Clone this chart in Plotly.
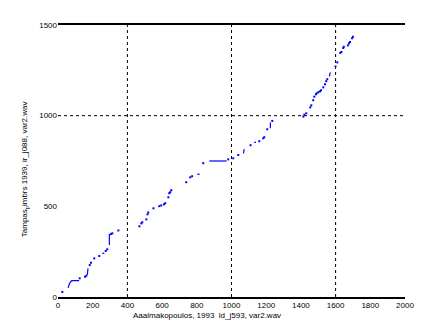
import plotly.graph_objects as go

# Isolated quantile points (x: Aaalmakopoulos, y: Tampas)
dots_x = [25, 125, 156, 163, 183, 190, 209, 238, 275, 284, 305, 313, 348,
          469, 480, 486, 509, 516, 520, 550, 584, 595, 611, 618, 636, 641, 647, 653,
          739, 762, 773, 837, 981, 1010, 1039, 1110, 1160, 1183, 1189, 1206, 1235,
          1414, 1420, 1431, 1454, 1460, 1471, 1477, 1487, 1491, 1500, 1510, 1516,
          1529, 1539, 1546, 1552, 1610, 1627, 1633, 1644, 1647, 1671, 1677, 1683,
          1695, 1700]
dots_y = [28, 103, 112, 117, 176, 189, 213, 226, 254, 263, 347, 351, 367,
          390, 406, 412, 428, 456, 466, 489, 501, 505, 511, 517, 550, 572, 578, 589,
          633, 660, 666, 738, 759, 765, 783, 837, 859, 875, 881, 925, 971,
          995, 1006, 1013, 1046, 1057, 1085, 1105, 1118, 1123, 1129, 1134, 1140,
          1156, 1173, 1190, 1201, 1294, 1346, 1351, 1373, 1380, 1388, 1399, 1406,
          1427, 1435]

# Dense runs of points (drawn as continuous strokes)
runs_x = [[58, 67, 79, 122], [169, 173], [255, 267], [296, 296], [803, 817],
          [872, 972], [1069, 1073], [1131, 1141], [1224, 1224], [1564, 1569],
          [1593, 1606]]
runs_y = [[50, 76, 90, 90], [121, 158], [241, 241], [287, 347], [677, 677],
          [750, 750], [792, 815], [853, 853], [930, 963], [1217, 1239],
          [1273, 1273]]

x_ticks = [0, 200, 400, 600, 800, 1000, 1200, 1400, 1600, 1800, 2000]
y_ticks = [0, 500, 1000, 1500]
x_grid = [400, 1000, 1600]
y_grid = [1000]

x_title = "Aaalmakopoulos, 1993  ld_j593, var2.wav"
y_title = "Tampas<sub>p</sub>imbrs 1939, ir_j088, var2.wav"

blue = "rgb(0,0,255)"
fig = go.Figure()

lx, ly = [], []
for rx, ry in zip(runs_x, runs_y):
    lx += rx + [None]
    ly += ry + [None]
fig.add_trace(go.Scatter(x=lx, y=ly, mode="lines",
                         line=dict(color=blue, width=1.2), hoverinfo="skip"))
fig.add_trace(go.Scatter(x=dots_x, y=dots_y, mode="markers",
                         marker=dict(color=blue, size=2, symbol="square",
                                     line=dict(width=0))))

for gx in x_grid:
    fig.add_shape(type="line", x0=gx, x1=gx, y0=0, y1=1500, xref="x", yref="y",
                  line=dict(color="black", width=1, dash="dot"), layer="below")
for gy in y_grid:
    fig.add_shape(type="line", x0=0, x1=2000, y0=gy, y1=gy, xref="x", yref="y",
                  line=dict(color="black", width=1, dash="dot"), layer="below")

font = dict(family="Liberation Sans, Arial, sans-serif", size=8, color="black")

fig.update_layout(
    width=447, height=335,
    margin=dict(l=58, r=42, t=25, b=38),
    paper_bgcolor="white", plot_bgcolor="white",
    showlegend=False,
    font=font,
    xaxis=dict(range=[0, 2000], tickvals=x_ticks, ticktext=[str(v) for v in x_ticks],
               showgrid=False, zeroline=False, showline=True, linecolor="black",
               linewidth=1.5, mirror=True, ticks="", tickfont=font),
    yaxis=dict(range=[0, 1500], tickvals=y_ticks, ticktext=[str(v) for v in y_ticks],
               showgrid=False, zeroline=False, showline=False, ticks="",
               tickfont=font),
    annotations=[
        dict(text=x_title, xref="paper", yref="paper", x=0.43, y=-0.045,
             xanchor="center", yanchor="top", showarrow=False, font=font),
        dict(text=y_title, xref="paper", yref="paper", x=-0.095, y=0.47,
             xanchor="center", yanchor="middle", showarrow=False, textangle=-90,
             font=font),
    ],
)

fig.write_html("out.html")
